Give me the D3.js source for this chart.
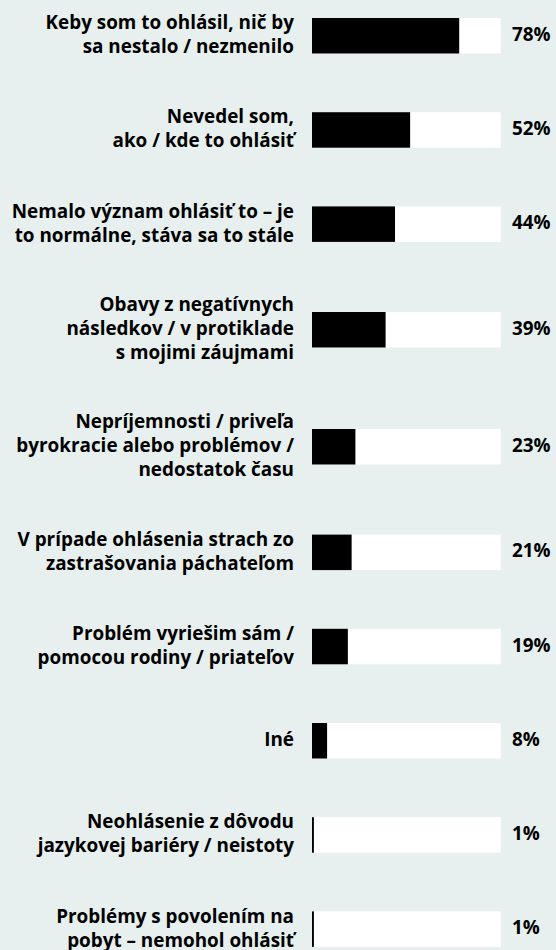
<!DOCTYPE html>
<html>
<head>
<meta charset="utf-8">
<script src="https://cdn.jsdelivr.net/npm/d3@7"></script>
<style>
  html, body { margin: 0; padding: 0; background: #e7f0ef; }
  svg { display: block; }
  text { font-family: "Open Sans", Lato, sans-serif; font-weight: 700; fill: #000; }
</style>
</head>
<body>
<div id="chart"></div>
<script>
// ---- data ----
const categories = [
  "Keby som to ohlásil, nič by\nsa nestalo / nezmenilo",
  "Nevedel som,\nako / kde to ohlásiť",
  "Nemalo význam ohlásiť to – je\nto normálne, stáva sa to stále",
  "Obavy z negatívnych\nnásledkov / v protiklade\ns mojimi záujmami",
  "Nepríjemnosti / priveľa\nbyrokracie alebo problémov /\nnedostatok času",
  "V prípade ohlásenia strach zo\nzastrašovania páchateľom",
  "Problém vyriešim sám /\npomocou rodiny / priateľov",
  "Iné",
  "Neohlásenie z dôvodu\njazykovej bariéry / neistoty",
  "Problémy s povolením na\npobyt – nemohol ohlásiť"
];
const values = [78, 52, 44, 39, 23, 21, 19, 8, 1, 1];
const valueLabels = ["78%", "52%", "44%", "39%", "23%", "21%", "19%", "8%", "1%", "1%"];

// ---- layout ----
const W = 556, H = 950;
const barLeft = 312, barRight = 500.7, barH = 35.5;
const labelRight = 294, valueX = 512;
const lineH = 24;

const svg = d3.select("#chart").append("svg")
  .attr("width", W).attr("height", H);

svg.append("rect").attr("width", W).attr("height", H).attr("fill", "#e7f0ef");

// fit font size so the widest label line matches the reference width (~278px)
const probe = svg.append("text").style("font-size", "18px").text("byrokracie alebo problémov /");
const probeW = probe.node().getComputedTextLength();
probe.remove();
const fontSize = Math.max(16, Math.min(20, 18 * 278 / probeW));

const lines = categories.map(c => c.split("\n"));
const weights = lines.map(l => l.length >= 3 ? 117 / 94.2 : 1);
const starts = [];
let acc = 0;
weights.forEach(w => { starts.push(acc); acc += w; });
const total = acc;

const y = d3.scaleLinear().domain([0, total]).range([-11.35, 976.25]);
const x = d3.scaleLinear().domain([0, 100]).range([barLeft, barRight]);

const rows = categories.map((c, i) => ({
  lines: lines[i],
  value: values[i],
  label: valueLabels[i],
  cy: y(starts[i] + weights[i] / 2)
}));

const g = svg.append("g");
const row = g.selectAll("g.row").data(rows).join("g").attr("class", "row");

row.append("rect")
  .attr("x", x(0))
  .attr("y", d => d.cy - barH / 2)
  .attr("width", x(100) - x(0))
  .attr("height", barH)
  .attr("fill", "#ffffff");

row.append("rect")
  .attr("x", x(0))
  .attr("y", d => d.cy - barH / 2)
  .attr("width", d => x(d.value) - x(0))
  .attr("height", barH)
  .attr("fill", "#000000");

row.append("text")
  .attr("text-anchor", "end")
  .style("font-size", fontSize + "px")
  .each(function(d) {
    const n = d.lines.length;
    d3.select(this).selectAll("tspan").data(d.lines).join("tspan")
      .attr("x", labelRight)
      .attr("y", (t, j) => d.cy + (j - (n - 1) / 2) * lineH)
      .attr("dy", "0.29em")
      .text(t => t);
  });

row.append("text")
  .attr("x", valueX)
  .attr("y", d => d.cy)
  .attr("dy", "0.27em")
  .style("font-size", fontSize + "px")
  .text(d => d.label);
</script>
</body>
</html>
